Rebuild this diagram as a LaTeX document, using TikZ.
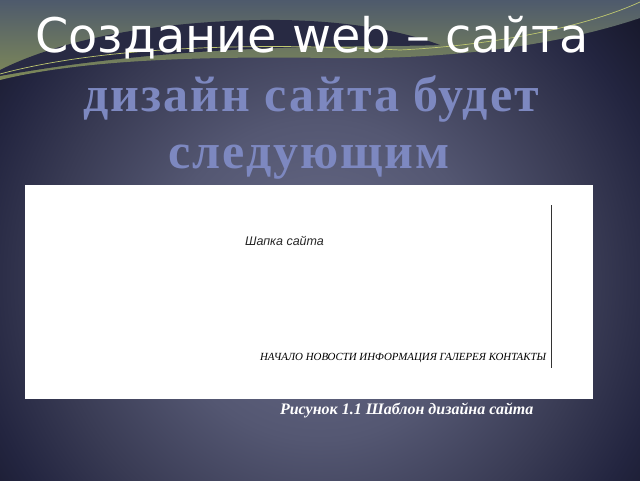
\documentclass[tikz,border=0pt]{standalone}
\usepackage{fontspec}
\newfontfamily\titlefont{DejaVu Sans}
\newfontfamily\subfont[LetterSpace=4]{Liberation Serif}
\newfontfamily\capfont{Liberation Serif}
\newfontfamily\headfont{Liberation Sans}
\definecolor{bgc0}{HTML}{6A6D8A}
\definecolor{bgc1}{HTML}{545772}
\definecolor{bgc2}{HTML}{393B54}
\definecolor{bgc3}{HTML}{232540}
\definecolor{bgc4}{HTML}{17182B}
\definecolor{topa}{HTML}{4E5A6C}
\definecolor{topb}{HTML}{7F8A58}
\definecolor{swoosh}{HTML}{282A43}
\definecolor{glow}{HTML}{BFC870}
\definecolor{subc}{HTML}{7D88C0}
\pgfdeclareradialshading{bgshade}{\pgfpointorigin}{color(0bp)=(bgc0); color(5bp)=(bgc1); color(8.5bp)=(bgc2); color(11bp)=(bgc3); color(13bp)=(bgc4); color(50bp)=(bgc4)}
\tikzset{
  txt/.style={inner sep=0pt, outer sep=0pt},
}
\begin{document}
\begin{tikzpicture}[x=1pt,y=-1pt]
\useasboundingbox (0,0) rectangle (640,480);
\begin{scope}
  \clip (0,0) rectangle (640,480);
  \shade[shading=bgshade] (320,280) circle[radius=800pt];
  % top olive region
  \shade[top color=topa, bottom color=topb]
    (0,0) -- (640,0) -- (640,18)
    .. controls (560,45) and (450,60) .. (330,58)
    .. controls (200,56) and (80,60) .. (0,80) -- cycle;
  % dark swoosh
  \fill[swoosh]
    (0,70) .. controls (60,40) and (150,22) .. (260,20)
    .. controls (340,19) and (400,30) .. (440,45)
    .. controls (380,48) and (200,40) .. (0,76) -- cycle;
  % highlight line
  \draw[glow, line width=0.7pt]
    (0,74) .. controls (100,47) and (250,42) .. (400,50)
    .. controls (500,45) and (590,25) .. (640,2);
\end{scope}
% title
\node[txt, anchor=base, text=white, font=\titlefont\fontsize{47.7}{57}\selectfont] (title) at (312,52) {Создание web – сайта};
\node[txt, anchor=base, text=subc, font=\subfont\bfseries\fontsize{50}{57}\selectfont] (sub1) at (311,111) {дизайн сайта будет};
\node[txt, anchor=base, text=subc, font=\subfont\bfseries\fontsize{50}{57}\selectfont] (sub2) at (309,168) {следующим};
% white panel
\node[fill=white, draw=none, inner sep=0pt, minimum width=568pt, minimum height=214pt, anchor=north west] (panel) at (25,185) {};
\coordinate (vt) at (551,205);
\coordinate (vb) at (551,368);
\draw[line width=0.8pt, black!80] (vt) -- (vb);
\node[txt, anchor=base west, text=black!85, font=\headfont\itshape\fontsize{12.5}{14}\selectfont] (head) at (245,245) {Шапка сайта};
\node[txt, anchor=base west, text=black, font=\capfont\itshape\fontsize{10.9}{13}\selectfont] (menu) at (260,360) {НАЧАЛО НОВОСТИ ИНФОРМАЦИЯ ГАЛЕРЕЯ КОНТАКТЫ};
\node[txt, anchor=base west, text=white, font=\capfont\bfseries\itshape\fontsize{16}{19}\selectfont] (cap) at (280,414) {Рисунок 1.1 Шаблон дизайна сайта};
\end{tikzpicture}
\end{document}
